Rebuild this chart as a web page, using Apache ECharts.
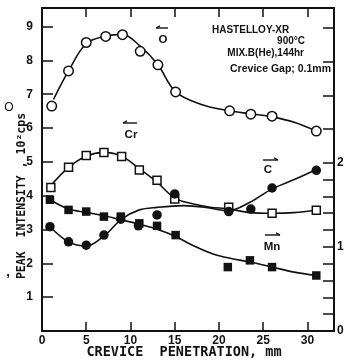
<!DOCTYPE html>
<html><head><meta charset="utf-8">
<script src="https://cdn.jsdelivr.net/npm/echarts@6/dist/echarts.min.js"></script>
<style>html,body{margin:0;padding:0;background:#fff}#c{width:348px;height:360px}</style>
</head><body><div id="c"></div>
<script>
// Tick labels
const xLabels = [0, 5, 10, 15, 20, 25, 30];
const xTickVals = [5, 10, 15, 20, 25, 30];
const yLeftLabels = [1, 2, 3, 4, 5, 6, 7, 8, 9];
const yRightLabels = [0, 1, 2];
const yRightTicks = [0, 0.2, 0.4, 0.6, 0.8, 1, 1.2, 1.4, 1.6, 1.8, 2, 2.4, 2.8, 3.2, 3.6];

// O (left axis) – measured points
const oX = [1.1, 3.0, 5.0, 7.2, 9.1, 11.1, 13.1, 15.1, 21.2, 23.6, 26.0, 31.0];
const oY = [6.65, 7.69, 8.53, 8.71, 8.76, 8.27, 7.87, 7.07, 6.51, 6.41, 6.35, 5.91];
// O fitted curve
const oCurveX = [1.3, 3.0, 5.0, 7.2, 9.1, 11.1, 13.1, 15.1, 18.0, 21.2, 23.6, 26.0, 28.5, 31.0];
const oCurveY = [6.85, 7.69, 8.50, 8.72, 8.77, 8.42, 7.87, 7.07, 6.70, 6.51, 6.42, 6.33, 6.17, 5.91];

// Cr (left axis)
const crX = [1.0, 3.0, 5.0, 7.0, 9.0, 11.0, 13.0, 15.0, 21.1, 26.0, 31.0];
const crY = [4.24, 4.84, 5.19, 5.28, 5.16, 4.76, 4.46, 3.90, 3.66, 3.48, 3.57];
const crCurveX = [1.0, 3.0, 5.0, 7.0, 9.0, 11.0, 13.0, 15.0, 17.0, 19.0, 21.1, 23.5, 26.0, 28.5, 31.0];
const crCurveY = [4.30, 4.84, 5.17, 5.28, 5.17, 4.80, 4.40, 3.93, 3.76, 3.66, 3.61, 3.50, 3.48, 3.50, 3.57];

// C (right axis)
const cX = [0.9, 3.0, 5.0, 7.0, 8.9, 10.9, 13.0, 15.0, 21.1, 23.6, 26.0, 31.0];
const cY = [1.24, 1.06, 1.02, 1.14, 1.33, 1.25, 1.38, 1.63, 1.42, 1.45, 1.70, 1.91];
const cCurveX = [0.9, 3.0, 5.0, 7.0, 9.0, 11.0, 13.0, 16.0, 18.5, 21.0, 23.5, 26.0, 28.5, 31.0];
const cCurveY = [1.24, 1.06, 1.01, 1.13, 1.33, 1.44, 1.47, 1.49, 1.47, 1.43, 1.53, 1.69, 1.80, 1.92];

// Mn (right axis)
const mnX = [0.9, 3.0, 5.0, 7.0, 8.9, 11.0, 13.0, 15.1, 21.0, 23.5, 26.0, 31.0];
const mnY = [1.56, 1.44, 1.42, 1.36, 1.36, 1.28, 1.25, 1.14, 0.76, 0.84, 0.76, 0.66];
const mnCurveX = [0.9, 3.0, 5.0, 7.0, 9.0, 11.0, 13.0, 15.0, 17.0, 19.5, 21.5, 23.5, 26.0, 28.5, 31.0];
const mnCurveY = [1.56, 1.45, 1.41, 1.37, 1.32, 1.27, 1.21, 1.13, 1.02, 0.91, 0.86, 0.82, 0.76, 0.70, 0.66];

const zip = (xs, ys) => xs.map((x, i) => [x, ys[i]]);
const INK = '#111';
const F = 'Liberation Sans, Arial, sans-serif';

function curve(xs, ys, yAxisIndex) {
  return { type: 'line', data: zip(xs, ys), yAxisIndex, smooth: 0.35, showSymbol: false, symbol: 'none',
    lineStyle: { color: INK, width: 1.6 }, z: 2, silent: true };
}
function pts(xs, ys, yAxisIndex, symbol, size, filled) {
  return { type: 'scatter', data: zip(xs, ys), yAxisIndex, symbol, symbolSize: size, z: 3,
    itemStyle: { color: filled ? INK : '#fff', borderColor: INK, borderWidth: filled ? 0 : 1.5, opacity: 1 } };
}
function arrow(x1, x2, y) {
  return { type: 'polyline', shape: { points: [[x1, y], [x2, y]] }, style: { stroke: INK, lineWidth: 1.4 } };
}
function head(x, y, dir) {
  return { type: 'polyline', shape: { points: [[x - dir * 4, y - 2.2], [x, y]] }, style: { stroke: INK, lineWidth: 1.4 } };
}
function txt(x, y, s, size, align, weight, fam) {
  return { type: 'text', x, y, style: { text: s, fill: INK, font: (weight || 'bold') + ' ' + size + 'px ' + (fam || F), align: align || 'center', verticalAlign: 'middle' } };
}

const chart = echarts.init(document.getElementById('c'), null, { renderer: 'canvas' });
chart.setOption({
  animation: false,
  backgroundColor: '#fff',
  grid: { left: 42, right: 14, top: 8, bottom: 29, containLabel: false, outerBoundsMode: 'none' },
  xAxis: [
    { type: 'value', position: 'bottom', min: 0, max: 33,
      axisLine: { show: true, onZero: false, lineStyle: { color: INK, width: 2 } },
      axisTick: { show: true, inside: true, length: 9, customValues: xTickVals, lineStyle: { color: INK, width: 1.5 } },
      axisLabel: { show: true, customValues: xLabels, color: INK, fontWeight: 'bold', fontSize: 12, fontFamily: F, margin: 4 },
      splitLine: { show: false } },
    { type: 'value', position: 'top', min: 0, max: 33,
      axisLine: { show: true, onZero: false, lineStyle: { color: INK, width: 2 } },
      axisTick: { show: true, inside: true, length: 9, customValues: xTickVals, lineStyle: { color: INK, width: 1.5 } },
      axisLabel: { show: false }, splitLine: { show: false } }
  ],
  yAxis: [
    { type: 'value', position: 'left', min: 0, max: 9.55, interval: 1,
      axisLine: { show: true, onZero: false, lineStyle: { color: INK, width: 2 } },
      axisTick: { show: true, inside: true, length: 11, customValues: yLeftLabels, lineStyle: { color: INK, width: 1.5 } },
      axisLabel: { show: true, customValues: yLeftLabels, color: INK, fontWeight: 'bold', fontSize: 12, fontFamily: F, margin: 9 },
      splitLine: { show: false } },
    { type: 'value', position: 'right', min: 0, max: 3.84,
      axisLine: { show: true, onZero: false, lineStyle: { color: INK, width: 2 } },
      axisTick: { show: true, inside: true, length: 11, customValues: yRightTicks, lineStyle: { color: INK, width: 1.5 } },
      axisLabel: { show: true, customValues: yRightLabels, color: INK, fontWeight: 'bold', fontSize: 12, fontFamily: F, margin: 3 },
      splitLine: { show: false } }
  ],
  series: [
    curve(oCurveX, oCurveY, 0),
    curve(crCurveX, crCurveY, 0),
    curve(cCurveX, cCurveY, 1),
    curve(mnCurveX, mnCurveY, 1),
    pts(oX, oY, 0, 'circle', 9.5, false),
    pts(crX, crY, 0, 'rect', 8, false),
    pts(cX, cY, 1, 'circle', 9.5, true),
    pts(mnX, mnY, 1, 'rect', 8.5, true)
  ],
  graphic: [
    txt(212, 30, 'HASTELLOY-XR', 10, 'left'),
    txt(305, 41, '900°C', 10, 'right'),
    txt(304, 53, 'MIX.B(He),144hr', 10, 'right'),
    txt(331, 69, 'Crevice Gap; 0.1mm', 10.5, 'right'),
    txt(163, 40, 'O', 11.5),
    arrow(156, 168, 28), head(156, 28, -1),
    txt(131, 135, 'Cr', 11.5),
    arrow(123, 137, 123), head(123, 123, -1),
    txt(268, 170, 'C', 11.5),
    arrow(263, 278, 160), head(278, 160, 1),
    txt(272, 247, 'Mn', 11.5),
    arrow(265, 280, 235), head(280, 235, 1),
    { type: 'text', x: 22, y: 196, rotation: Math.PI / 2,
      style: { text: 'PEAK  INTENSITY , 10²cps', fill: INK, font: 'bold 11.5px DejaVu Sans Mono, monospace', align: 'center', verticalAlign: 'middle' } },
    txt(184, 352, 'CREVICE  PENETRATION, mm', 13.5, 'center', 'bold', 'DejaVu Sans Mono, monospace'),
    txt(9, 108, 'O', 12, 'center', 'normal'),
    txt(8, 272, ',', 13, 'center', 'bold')
  ]
});
</script></body></html>
